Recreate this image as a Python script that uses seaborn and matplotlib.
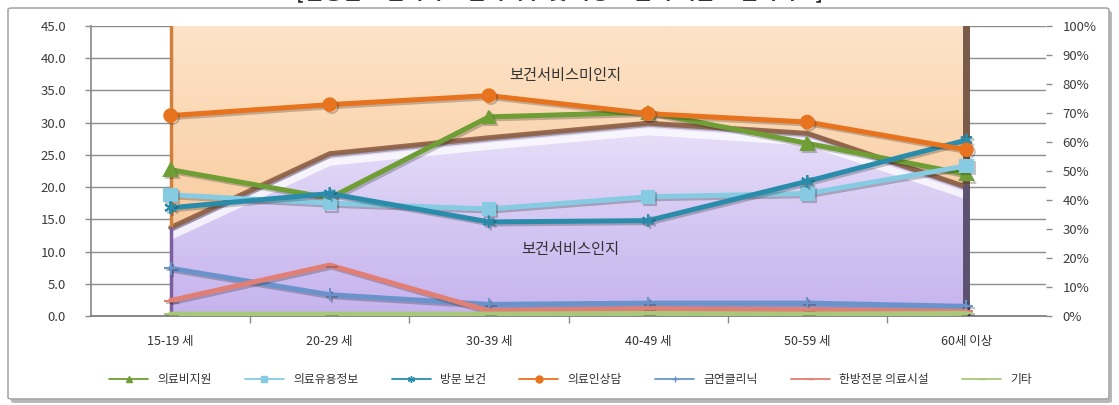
import numpy as np
import pandas as pd
import matplotlib
matplotlib.use("Agg")
import matplotlib.pyplot as plt
import matplotlib.patheffects as pe
from matplotlib.patches import FancyBboxPatch
from matplotlib.lines import Line2D
from matplotlib.colors import LinearSegmentedColormap
import seaborn as sns

# ---- data -------------------------------------------------------------
age_groups = ["15-19 세", "20-29 세", "30-39 세", "40-49 세", "50-59 세", "60세 이상"]

medical_cost = [22.7, 18.3, 30.9, 31.6, 26.8, 22.0]   # 의료비지원
medical_info = [18.8, 17.5, 16.6, 18.5, 19.0, 23.3]   # 의료유용정보
home_visit   = [16.8, 19.0, 14.6, 14.8, 20.9, 27.3]   # 방문 보건
consultation = [31.1, 32.8, 34.2, 31.4, 30.1, 25.8]   # 의료인상담
quit_smoking = [7.4, 3.3, 1.8, 2.0, 2.0, 1.5]         # 금연클리닉
oriental_med = [2.4, 7.9, 0.8, 1.1, 0.9, 0.7]         # 한방전문 의료시설
others       = [0.3, 0.3, 0.3, 0.4, 0.3, 0.4]         # 기타

aware_pct = [30.5, 56.0, 61.5, 66.5, 63.0, 44.5]      # 보건서비스인지 (%)

series_names = ["의료비지원", "의료유용정보", "방문 보건", "의료인상담",
                "금연클리닉", "한방전문 의료시설", "기타"]
left_ticks = [0, 5, 10, 15, 20, 25, 30, 35, 40, 45]
right_ticks = [0, 10, 20, 30, 40, 50, 60, 70, 80, 90, 100]
title_text = "[연령별 보건서비스 인지여부 및 가장 도움이 되는 보건서비스]"

# ---- styling ----------------------------------------------------------
sns.set_theme(style="white")
plt.rcParams["font.family"] = ["Noto Sans CJK KR", "DejaVu Sans"]

colors = {
    "의료비지원": "#6E9E34",
    "의료유용정보": "#86CBE2",
    "방문 보건": "#2A8CAB",
    "의료인상담": "#E8731E",
    "금연클리닉": "#6A93CC",
    "한방전문 의료시설": "#E27F74",
    "기타": "#A9C87A",
}
markers = {
    "의료비지원": "^",
    "의료유용정보": "s",
    "방문 보건": (6, 2, 0),
    "의료인상담": "o",
    "금연클리닉": "+",
    "한방전문 의료시설": "_",
    "기타": "_",
}

values = [medical_cost, medical_info, home_visit, consultation,
          quit_smoking, oriental_med, others]
x = np.arange(len(age_groups))
df = pd.DataFrame({
    "pos": np.tile(x, len(series_names)),
    "value": np.concatenate(values),
    "series": np.repeat(series_names, len(age_groups)),
})

W, H = 1119, 405
fig = plt.figure(figsize=(W / 100, H / 100), dpi=100)
fig.patch.set_facecolor("white")

# chart frame with soft shadow (kept underneath the axes)
shadow = FancyBboxPatch((11 / W, 2 / H), 1101 / W, 392 / H,
                        boxstyle="round,pad=0,rounding_size=0.004",
                        transform=fig.transFigure, facecolor="#B8B8B8",
                        edgecolor="none", zorder=-3)
frame = FancyBboxPatch((8 / W, 6 / H), 1101 / W, 391 / H,
                       boxstyle="round,pad=0,rounding_size=0.004",
                       transform=fig.transFigure, facecolor="white",
                       edgecolor="#A8A8A8", linewidth=1.2, zorder=-2)
fig.patches.extend([shadow, frame])

fig.text(0.5, 1 - 3 / H, title_text, ha="center", va="bottom",
         fontsize=15, fontweight="bold", color="#333333")

rect = [91 / W, 1 - 316 / H, (1046 - 91) / W, (316 - 26) / H]
xlim = (-0.5, len(age_groups) - 0.5)

# bottom layer: gridlines and left value axis
ax_grid = fig.add_axes(rect)
ax_grid.set_facecolor("none")
ax_grid.set_xlim(*xlim)
ax_grid.set_ylim(0, 45)
for v in left_ticks[1:]:
    ax_grid.axhline(v, color="#8C8C8C", lw=1.0, zorder=0)
ax_grid.set_yticks(left_ticks)
ax_grid.set_yticklabels([f"{v:.1f}" for v in left_ticks], fontsize=9.5, color="#3C3C3C")
ax_grid.tick_params(axis="y", length=4, width=1, color="#8C8C8C", pad=14, direction="out", left=True)
ax_grid.set_xticks(x)
ax_grid.set_xticklabels(age_groups, fontsize=9, color="#333333")
ax_grid.set_xticks(x[:-1] + 0.5, minor=True)
ax_grid.tick_params(axis="x", which="major", length=0, pad=14)
ax_grid.tick_params(axis="x", which="minor", length=5, width=1, color="#8C8C8C", direction="out", bottom=True)
for s in ["top", "right"]:
    ax_grid.spines[s].set_visible(False)
ax_grid.spines["left"].set_color("#8C8C8C")
ax_grid.spines["bottom"].set_color("#7A7A7A")

# middle layer: awareness area on the percent axis
ax_bg = fig.add_axes(rect, sharex=ax_grid)
ax_bg.set_facecolor("none")
upper_poly = ax_bg.fill_between(x, aware_pct, 100, color="none", lw=0)
lower_poly = ax_bg.fill_between(x, 0, aware_pct, color="none", lw=0)

grad = np.linspace(0, 1, 256).reshape(-1, 1)
cm_up = LinearSegmentedColormap.from_list("up", ["#F6C08A", "#FAD3AC", "#FDE3C8"])
cm_low = LinearSegmentedColormap.from_list("low", ["#C6B3EE", "#D6C9F3", "#EAE3FA"])
im_up = ax_bg.imshow(grad, extent=(0, 5, 0, 100), origin="lower", aspect="auto",
                     cmap=cm_up, zorder=1, interpolation="bilinear")
im_up.set_clip_path(upper_poly.get_paths()[0], transform=ax_bg.transData)
im_low = ax_bg.imshow(grad, extent=(0, 5, 0, 70), origin="lower", aspect="auto",
                      cmap=cm_low, zorder=1, interpolation="bilinear")
im_low.set_clip_path(lower_poly.get_paths()[0], transform=ax_bg.transData)

# 3D-like edges of the area
hl = ax_bg.plot(x, np.array(aware_pct) - 3.0, color="white", lw=5, alpha=0.75, zorder=2,
                solid_capstyle="butt")[0]
hl.set_clip_path(lower_poly.get_paths()[0], transform=ax_bg.transData)
ax_bg.plot(x, aware_pct, color="#8E5F44", lw=3.5, zorder=3, alpha=0.9,
           path_effects=[pe.SimpleLineShadow(offset=(1, -1), alpha=0.3), pe.Normal()])
ax_bg.plot([0, 0], [aware_pct[0], 100], color="#D0803F", lw=2.5, zorder=3)
ax_bg.plot([0, 0], [0, aware_pct[0]], color="#7D5FA0", lw=2.5, zorder=3)
ax_bg.plot([5, 5], [aware_pct[-1], 100], color="#7A5A48", lw=5, zorder=3)
ax_bg.plot([5, 5], [0, aware_pct[-1]], color="#5C5270", lw=5, zorder=3)
ax_bg.plot([0, 5], [0.6, 0.6], color="#5B4F8A", lw=2, zorder=3)

ax_bg.text(2.48, 83, "보건서비스미인지", ha="center", va="center", fontsize=11,
           color="#333333", zorder=4)
ax_bg.text(2.51, 23, "보건서비스인지", ha="center", va="center", fontsize=11,
           color="#333333", zorder=4)

ax_bg.set_xlim(*xlim)
ax_bg.set_ylim(0, 100)
ax_bg.yaxis.tick_right()
ax_bg.set_yticks(right_ticks)
ax_bg.set_yticklabels([f"{v}%" for v in right_ticks], fontsize=9.5, color="#3C3C3C")
ax_bg.tick_params(axis="y", right=True, left=False, length=4, width=1, color="#8C8C8C", pad=8)
ax_bg.tick_params(axis="x", bottom=False, labelbottom=False, which="both")
for s in ax_bg.spines.values():
    s.set_visible(False)

# top layer: the service lines, one seaborn call per series
ax = fig.add_axes(rect, sharex=ax_grid)
ax.set_facecolor("none")
for name in series_names:
    sub = df[df["series"] == name]
    sns.lineplot(data=sub, x="pos", y="value", color=colors[name],
                 marker=markers[name], sort=False, linewidth=3.6,
                 markersize=9, markeredgewidth=1.5,
                 markeredgecolor=colors[name], ax=ax)
for line in ax.get_lines():
    line.set_path_effects([pe.SimpleLineShadow(offset=(1.5, -1.5), alpha=0.25), pe.Normal()])
    line.set_zorder(5)
ax.set_xlim(*xlim)
ax.set_ylim(0, 45)
ax.set_xlabel("")
ax.set_ylabel("")
ax.tick_params(left=False, bottom=False, labelleft=False, labelbottom=False, which="both")
for s in ax.spines.values():
    s.set_visible(False)

# legend
handles = [Line2D([0], [0], color=colors[n], marker=markers[n], lw=1.3,
                  markersize=5, markeredgecolor=colors[n], markeredgewidth=1)
           for n in series_names]
fig.legend(handles, series_names, loc="center", bbox_to_anchor=(0.51, 1 - 380 / H),
           ncol=7, frameon=False, fontsize=8.5, handlelength=3.3,
           columnspacing=2.8, handletextpad=0.8, labelcolor="#333333")

fig.savefig("out.png", dpi=100, facecolor="white")
